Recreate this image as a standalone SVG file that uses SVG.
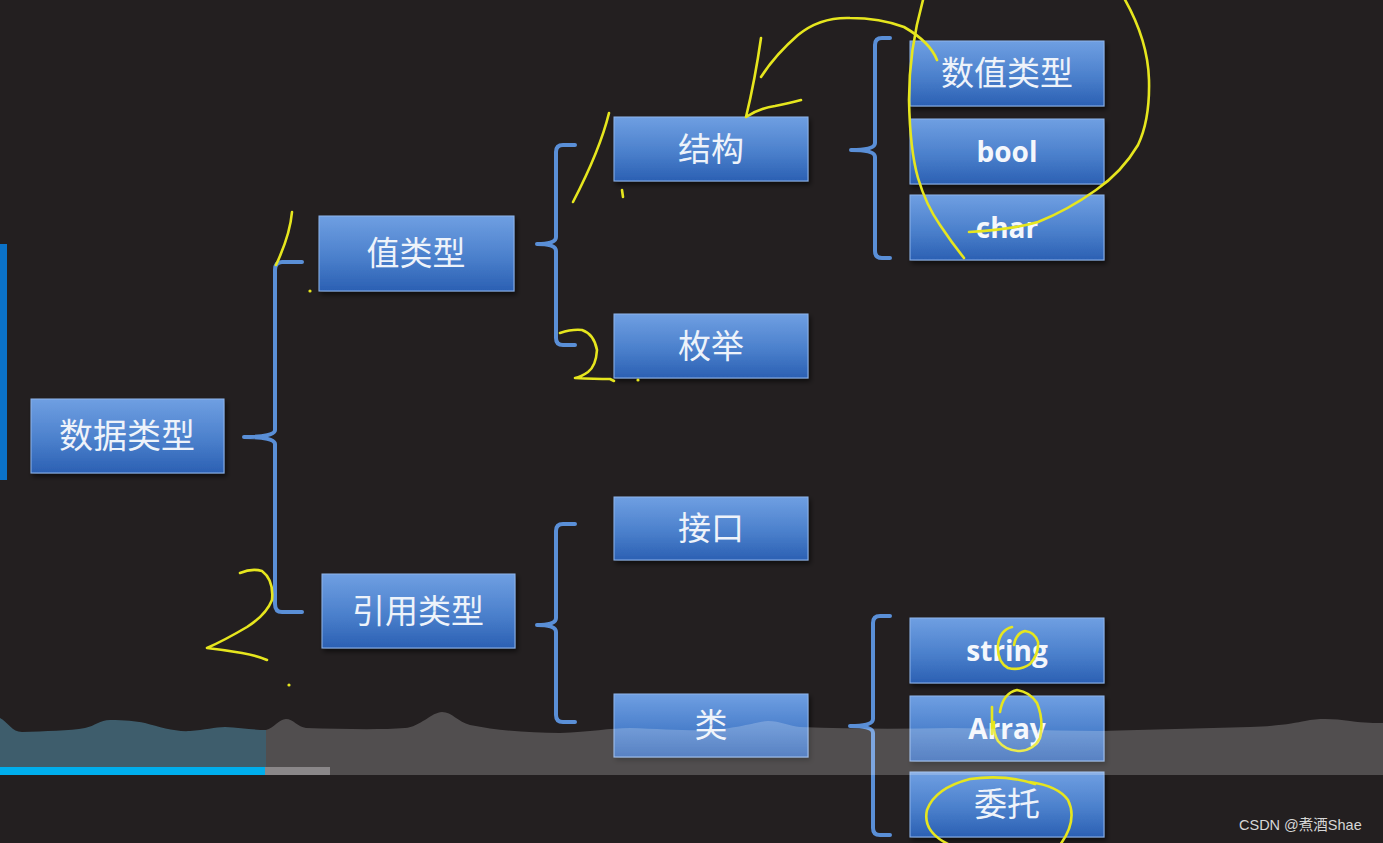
<svg xmlns="http://www.w3.org/2000/svg" width="1383" height="843" viewBox="0 0 1383 843">
<defs>
<linearGradient id="g" x1="0" y1="0" x2="0" y2="1">
<stop offset="0" stop-color="#6f9fe2"/>
<stop offset="0.55" stop-color="#4b80cc"/>
<stop offset="1" stop-color="#2b60b3"/>
</linearGradient>
<filter id="sh" x="-10%" y="-10%" width="125%" height="135%">
<feDropShadow dx="2" dy="3" stdDeviation="2.5" flood-color="#000" flood-opacity="0.6"/>
</filter>
<style>
.box{fill:url(#g);stroke:#8db3ea;stroke-width:1;filter:url(#sh)}
.cj{font-family:"Noto Sans CJK SC","Noto Sans",sans-serif;fill:#eef3fa;text-anchor:middle}
.en{font-family:"Open Sans","Liberation Sans",sans-serif;font-weight:bold;fill:#f4f7fc;text-anchor:middle;font-size:28px}
.br{fill:none;stroke:#5a8fd7;stroke-width:4;stroke-linecap:round;stroke-linejoin:round}
.ink{fill:none;stroke:#e6e61e;stroke-width:2.6;stroke-linecap:round;stroke-linejoin:round}
</style>
</defs>
<rect width="1383" height="843" fill="#231f20"/>
<rect x="0" y="244" width="7" height="236" fill="#0b72c8"/>

<g id="connectors">
<path class="br" d="M302,262 L282,262 Q275,262 275,270 L275,430 Q275,437 244,437 Q275,437 275,444 L275,604 Q275,612 282,612 L302,612"/>
<path class="br" d="M575,145 L563,145 Q556,145 556,152 L556,237 Q556,244 537,244 Q556,244 556,251 L556,338 Q556,345 563,345 L575,345"/>
<path class="br" d="M575,524 L563,524 Q556,524 556,531 L556,618 Q556,625 537,625 Q556,625 556,632 L556,715 Q556,722 563,722 L575,722"/>
<path class="br" d="M890,38 L882,38 Q875,38 875,45 L875,143 Q875,150 851,150 Q875,150 875,157 L875,251 Q875,258 882,258 L890,258"/>
<path class="br" d="M890,616 L880,616 Q873,616 873,623 L873,719 Q873,726 850,726 Q873,726 873,733 L873,828 Q873,835 880,835 L890,835"/>
</g>

<g id="n-shujuleixing"><rect class="box" x="31" y="399" width="193" height="74"/><text class="cj" x="127" y="448" font-size="34">数据类型</text></g>
<g id="n-zhileixing"><rect class="box" x="319" y="216" width="195" height="75"/><text class="cj" x="416" y="265" font-size="33">值类型</text></g>
<g id="n-yinyongleixing"><rect class="box" x="322" y="574" width="193" height="74"/><text class="cj" x="418" y="623" font-size="33">引用类型</text></g>
<g id="n-jiegou"><rect class="box" x="614" y="117" width="194" height="64"/><text class="cj" x="711" y="161" font-size="33">结构</text></g>
<g id="n-meiju"><rect class="box" x="614" y="314" width="194" height="64"/><text class="cj" x="711" y="358" font-size="33">枚举</text></g>
<g id="n-jiekou"><rect class="box" x="614" y="497" width="194" height="63"/><text class="cj" x="711" y="540" font-size="33">接口</text></g>
<g id="n-lei"><rect class="box" x="614" y="694" width="194" height="63"/><text class="cj" x="711" y="737" font-size="33">类</text></g>
<g id="n-shuzhileixing"><rect class="box" x="910" y="41" width="194" height="65"/><text class="cj" x="1007" y="85" font-size="33">数值类型</text></g>
<g id="n-bool"><rect class="box" x="910" y="119" width="194" height="65"/><text class="en" x="1007" y="162">bool</text></g>
<g id="n-char"><rect class="box" x="910" y="195" width="194" height="65"/><text class="en" x="1007" y="238">char</text></g>
<g id="n-string"><rect class="box" x="910" y="618" width="194" height="65"/><text class="en" x="1007" y="661">string</text></g>
<g id="n-array"><rect class="box" x="910" y="696" width="194" height="65"/><text class="en" x="1007" y="739">Array</text></g>
<g id="n-weituo"><rect class="box" x="910" y="772" width="194" height="65"/><text class="cj" x="1007" y="816" font-size="33">委托</text></g>

<g id="annotations">
<path class="ink" d="M292,212 Q290,235 276,265"/>
<circle cx="310" cy="291" r="1.6" fill="#e6e61e"/>
<path class="ink" d="M240,573 Q252,568 262,571 Q274,580 272,600 Q266,615 247,627 Q225,640 207,648 Q225,650 242,653 Q258,656 267,660"/>
<circle cx="289" cy="685" r="1.6" fill="#e6e61e"/>
<path class="ink" d="M609,113 Q600,150 573,202"/>
<path class="ink" d="M622,190 L623,197"/>
<path class="ink" d="M937,60 Q930,42 904,27 Q880,18 850,18 Q820,17 798,35 Q775,55 761,77"/>
<path class="ink" d="M761,38 Q755,80 746,117 Q760,108 775,106 Q790,103 801,100"/>
<path class="ink" d="M923,0 Q909,50 909,100 Q910,150 918,178 Q926,205 940,225 Q952,243 964,258"/>
<path class="ink" d="M1124,-2 Q1148,40 1149,80 Q1150,120 1138,145 Q1122,172 1096,190 Q1068,210 1038,222 Q1010,230 969,232"/>
<path class="ink" d="M560,333 Q572,329 582,330 Q594,334 597,350 Q596,366 588,372 Q581,377 575,378 Q595,379 610,379 L614,381"/>
<circle cx="638" cy="380" r="1.6" fill="#e6e61e"/>
<path class="ink" d="M1012,627 Q1000,630 998,645 Q997,662 1008,668 Q1020,671 1030,664 Q1039,654 1038,642 Q1035,632 1025,631 Q1016,633 1014,645"/>
<path class="ink" d="M992,707 L992,734"/>
<path class="ink" d="M1000,712 Q1003,693 1017,690 Q1030,692 1037,703 Q1044,720 1040,738 Q1034,750 1020,751 Q1006,751 998,741 Q993,733 994,722"/>
<path class="ink" d="M1035,784 Q1005,774 970,779 Q935,788 927,810 Q922,832 950,845 M1060,845 Q1078,820 1068,800 Q1058,786 1030,782"/>
</g>

<g id="player">
<path d="M0,718 C8,722 12,732 22,732 C45,731 70,731 85,728 C95,726 100,720 110,720 C125,720 135,721 145,723 C160,727 175,732 190,731 C205,730 215,727 225,727 C240,728 255,730 266,730 L266,775 L0,775 Z" fill="#66bcde" fill-opacity="0.4"/>
<path d="M266,730 C274,728 279,719 286,719 C293,719 298,727 306,728 C340,729 380,730 405,728 C420,727 432,712 442,712 C452,712 458,722 470,725 C500,731 530,733 560,733 C590,732 610,728 630,728 C660,729 690,731 710,730 C740,728 755,722 768,721 C780,721 790,726 800,727 C850,729 900,729 950,728 C1000,728 1050,731 1100,731 C1150,730 1200,728 1250,727 C1280,726 1295,723 1305,721 C1320,718 1335,719 1350,721 C1365,723 1375,723 1383,723 L1383,775 L266,775 Z" fill="#ffffff" fill-opacity="0.21"/>
<rect x="0" y="767" width="265" height="8" fill="#00aeec"/>
<rect x="265" y="767" width="65" height="8" fill="#8a8789"/>
<text x="1239" y="830" font-family="'Liberation Sans','Noto Sans CJK SC',sans-serif" font-size="14.5" fill="#d6d6d6">CSDN @煮酒Shae</text>
</g>
</svg>
